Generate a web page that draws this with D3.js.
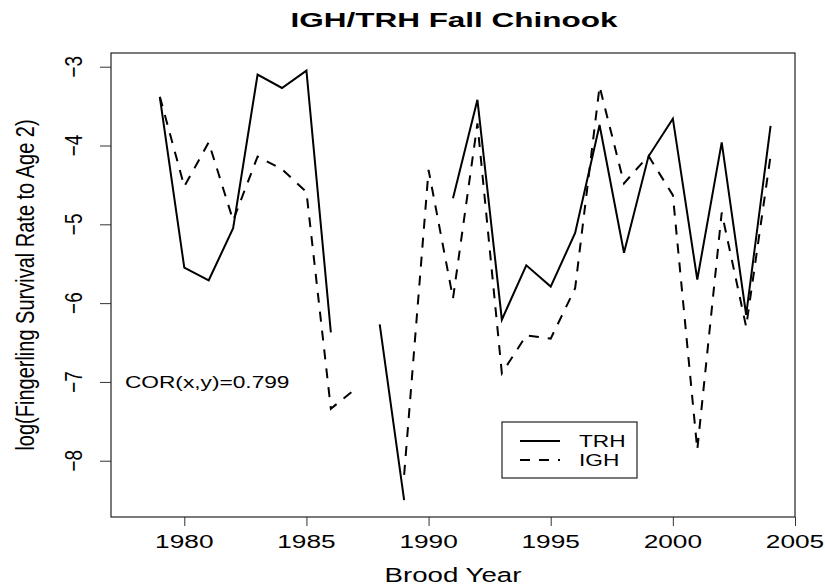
<!DOCTYPE html>
<html>
<head>
<meta charset="utf-8">
<script src="https://cdn.jsdelivr.net/npm/d3@7"></script>
<style>
  body { margin: 0; background: #fff; }
  text { font-family: "Liberation Sans", Arial, sans-serif; fill: #000; }
</style>
</head>
<body>
<svg id="chart" width="825" height="587"></svg>
<script>
// brood years and log survival rates (null = no data)
const years = d3.range(1979, 2005);
const trh = [-3.39, -5.55, -5.71, -5.05, -3.10, -3.27, -3.05, -6.37, null, -6.27,
  -8.50, null, -4.67, -3.42, -6.21, -5.52, -5.79, -5.11, -3.74, -5.36,
  -4.14, -3.66, -5.70, -3.96, -6.15, -3.75];
const igh = [-3.38, -4.52, -3.96, -4.95, -4.14, -4.30, -4.59, -7.34, -7.09, null,
  -8.18, -4.31, -5.94, -3.72, -6.89, -6.41, -6.45, -5.81, -3.25, -4.48,
  -4.13, -4.63, -7.86, -4.85, -6.30, -4.13];
const xTicks = [1980, 1985, 1990, 1995, 2000, 2005];
const yTicks = [-8, -7, -6, -5, -4, -3];
const series = [
  { name: "TRH", values: trh, dash: null },
  { name: "IGH", values: igh, dash: "10,9" }
];

const width = 825, height = 587;
const margin = { top: 53, right: 30, bottom: 70, left: 111 };
const stretch = 1.42; // text in the original is drawn wide

const svg = d3.select("#chart");

const x = d3.scaleLinear()
  .domain([1977, 2005])
  .range([margin.left, width - margin.right]);

const y = d3.scaleLinear()
  .domain([-8.714, -2.826])
  .range([height - margin.bottom, margin.top]);

// horizontal text, stretched sideways
const hText = (px, py, str, size, anchor, weight, sx) => svg.append("g")
  .attr("transform", `translate(${px},${py}) scale(${sx || stretch},1)`)
  .append("text")
  .attr("text-anchor", anchor || "middle")
  .attr("font-size", size)
  .attr("font-weight", weight || "normal")
  .text(str);

// vertical text, stretched across the reading direction
const vText = (px, py, str, size) => svg.append("g")
  .attr("transform", `translate(${px},${py}) rotate(-90) scale(1,1.3)`)
  .append("text")
  .attr("text-anchor", "middle")
  .attr("font-size", size)
  .text(str);

// axes (ticks only, labels drawn by hand)
svg.append("g")
  .attr("transform", `translate(0,${height - margin.bottom})`)
  .call(d3.axisBottom(x).tickValues(xTicks).tickSize(9).tickFormat(""))
  .call(g => g.select(".domain").remove())
  .selectAll("line").attr("stroke", "#333");

svg.append("g")
  .attr("transform", `translate(${margin.left},0)`)
  .call(d3.axisLeft(y).tickValues(yTicks).tickSize(11).tickFormat(""))
  .call(g => g.select(".domain").remove())
  .selectAll("line").attr("stroke", "#333");

xTicks.forEach(t => hText(x(t), 548, t, 18.5));
yTicks.forEach(t => vText(82, y(t), d3.format("d")(t), 19));

// plot box
svg.append("rect")
  .attr("x", margin.left)
  .attr("y", margin.top)
  .attr("width", width - margin.left - margin.right)
  .attr("height", height - margin.top - margin.bottom)
  .attr("fill", "none")
  .attr("stroke", "#222")
  .attr("stroke-width", 1.2);

// lines
const line = d3.line()
  .defined(d => d.v !== null)
  .x(d => x(d.year))
  .y(d => y(d.v));

svg.selectAll("path.series")
  .data(series)
  .enter()
  .append("path")
  .attr("class", "series")
  .attr("d", s => line(years.map((yr, i) => ({ year: yr, v: s.values[i] }))))
  .attr("fill", "none")
  .attr("stroke", "#000")
  .attr("stroke-width", 2)
  .attr("stroke-dasharray", s => s.dash);

// titles
hText(454, 27, "IGH/TRH Fall Chinook", 21, "middle", "bold", 1.5);
hText(453, 582, "Brood Year", 19.5);
vText(34, (margin.top + height - margin.bottom) / 2, "log(Fingerling Survival Rate to Age 2)", 20);

// correlation note
hText(x(1977.57), y(-7) + 6, "COR(x,y)=0.799", 16, "start");

// legend
const legend = svg.append("g");
legend.append("rect")
  .attr("x", 502).attr("y", 422)
  .attr("width", 135).attr("height", 56)
  .attr("fill", "#fff")
  .attr("stroke", "#222")
  .attr("stroke-width", 1.2);
series.forEach((s, i) => {
  const ly = 441 + i * 19;
  legend.append("line")
    .attr("x1", 520).attr("x2", 560)
    .attr("y1", ly).attr("y2", ly)
    .attr("stroke", "#000")
    .attr("stroke-width", 2)
    .attr("stroke-dasharray", s.dash);
  hText(579, ly + 6, s.name, 16, "start");
});
</script>
</body>
</html>
